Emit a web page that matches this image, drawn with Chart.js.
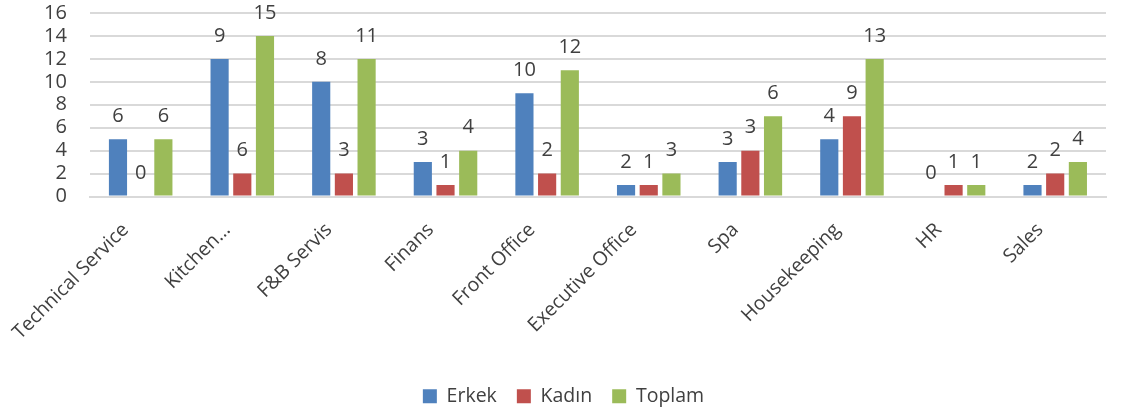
<!DOCTYPE html>
<html>
<head>
<meta charset="utf-8">
<script src="https://cdn.jsdelivr.net/npm/chart.js@4"></script>
<style>
html,body{margin:0;padding:0;background:#fff;}
#wrap{width:1125px;height:408px;position:relative;}
</style>
</head>
<body>
<div id="wrap"><canvas id="c"></canvas></div>
<script>
const categories = ["Technical Service","Kitchen…","F&B Servis","Finans","Front Office","Executive Office","Spa","Housekeeping","HR","Sales"];
const seriesNames = ["Erkek","Kadın","Toplam"];
const erkekBars  = [5,12,10,3,9,1,3,5,0,1];
const kadinBars  = [0,2,2,1,2,1,4,7,1,2];
const toplamBars = [5,14,12,4,11,2,7,12,1,3];
const erkekLabels  = [6,9,8,3,10,2,3,4,0,2];
const kadinLabels  = [0,6,3,1,2,1,3,9,1,2];
const toplamLabels = [6,15,11,4,12,3,6,13,1,4];
const yTicks = [0,2,4,6,8,10,12,14,16];

const colors = ["#4F81BD","#C0504D","#9BBB59"];
const labelSets = [erkekLabels, kadinLabels, toplamLabels];
const FONT = "'Open Sans', 'Noto Sans', sans-serif";
const TEXT = "#404040";

const valueLabels = {
  id: 'valueLabels',
  afterDatasetsDraw(chart) {
    const ctx = chart.ctx;
    ctx.save();
    ctx.font = "20px " + FONT;
    ctx.fillStyle = TEXT;
    ctx.textAlign = 'center';
    ctx.textBaseline = 'middle';
    chart.data.datasets.forEach((ds, di) => {
      const meta = chart.getDatasetMeta(di);
      meta.data.forEach((el, i) => {
        ctx.fillText(String(labelSets[di][i]), el.x, el.y - 23);
      });
    });
    ctx.restore();
  }
};

new Chart(document.getElementById('c'), {
  type: 'bar',
  data: {
    labels: categories,
    datasets: [
      {label: seriesNames[0], data: erkekBars, backgroundColor: colors[0], borderWidth: 0},
      {label: seriesNames[1], data: kadinBars, backgroundColor: colors[1], borderWidth: 0},
      {label: seriesNames[2], data: toplamBars, backgroundColor: colors[2], borderWidth: 0}
    ]
  },
  options: {
    responsive: true,
    maintainAspectRatio: false,
    animation: false,
    layout: {padding: {top: 0, right: 19, left: 21, bottom: -8}},
    datasets: {bar: {categoryPercentage: 0.67, barPercentage: 0.8}},
    plugins: {
      legend: {
        position: 'bottom',
        labels: {boxWidth: 14, boxHeight: 14, font: {family: FONT, size: 19.5}, color: TEXT, padding: 20}
      },
      tooltip: {enabled: false}
    },
    scales: {
      x: {
        grid: {display: false, drawTicks: false},
        border: {display: true, color: '#d9d9d9', width: 2},
        ticks: {maxRotation: 45, minRotation: 45, autoSkip: false, font: {family: FONT, size: 19.5}, color: TEXT, padding: 22, labelOffset: -15},
        afterFit(axis) { axis.height = 170; }
      },
      y: {
        min: 0, max: 16,
        afterBuildTicks(axis) { axis.ticks = yTicks.map(v => ({value: v})); },
        grid: {color: '#d9d9d9', lineWidth: 2, drawTicks: false},
        border: {display: false},
        ticks: {autoSkip: false, font: {family: FONT, size: 20}, color: TEXT, padding: 23},
        afterFit(axis) { axis.paddingTop = 13; axis.paddingBottom = 0; }
      }
    }
  },
  plugins: [valueLabels]
});
</script>
</body>
</html>
